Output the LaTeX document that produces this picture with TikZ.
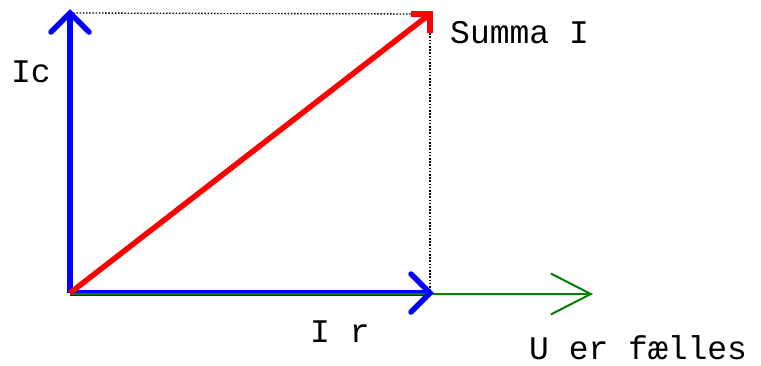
\documentclass[tikz,border=0pt]{standalone}
\usepackage{fontspec}
\usetikzlibrary{arrows.meta}
\newfontfamily\labelfont{Liberation Mono}
\begin{document}
\begin{tikzpicture}[x=1pt,y=-1pt,
  lbl/.style={font=\labelfont\fontsize{33}{38}\selectfont, inner sep=0pt, anchor=base west, text depth=0pt},
  vec/.style={line width=5.5pt},
  head/.style={line width=5.5pt, line cap=round},
  helper/.style={black, line width=1.3pt, dash pattern=on 1.5pt off 1.7pt},
  uline/.style={green!50!black, line width=2pt, -{Straight Barb[length=40pt,width=41pt]}}
]
\useasboundingbox (0,0) rectangle (761,365);
\coordinate (O) at (70,293);
\coordinate (C) at (70,13);
\coordinate (R) at (430,293);
\coordinate (S) at (430,14);
\coordinate (Uend) at (593,294);
\coordinate (Ustart) at (70,294);
\draw[helper] (C) -- (S);
\draw[helper] (S) -- (R);
\draw[vec, blue] (O) -- (C);
\draw[vec, blue] (O) -- (R);
\draw[head, blue] (C) ++(-19,19) -- (C) -- ++(19,19);
\draw[uline] (Ustart) -- (Uend);
\draw[head, blue] (R) ++(-19,-19) -- (R) -- ++(-19,19);
\draw[vec, red] (O) -- (S);
\draw[head, red, line cap=butt] (S) ++(-19,0) -- (S) -- ++(0,19);
\node[lbl] (lc) at (11,82) {Ic};
\node[lbl] (ls) at (450,43) {Summa I};
\node[lbl] (lr) at (310,342) {I r};
\node[lbl] (lu) at (529,359) {U er fælles};
\end{tikzpicture}
\end{document}
